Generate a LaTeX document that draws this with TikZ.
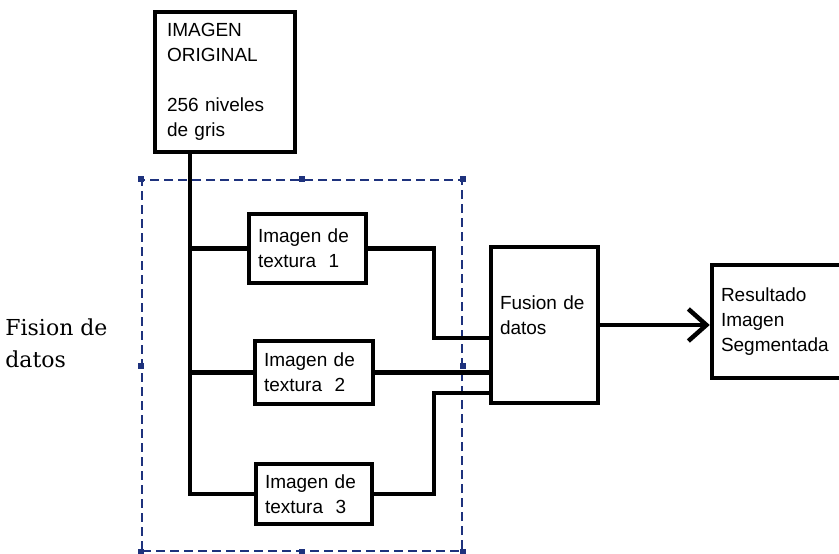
\documentclass[tikz,border=0pt]{standalone}
\usepackage{fontspec}
\setmainfont{Liberation Sans}
\newfontfamily\labelserif{DejaVu Serif}
\usetikzlibrary{arrows.meta}
\definecolor{navy}{RGB}{30,50,125}

\begin{document}
\begin{tikzpicture}[x=1pt,y=-1pt,thick,
	box/.style={rectangle,draw,line width=4.5pt,align=left,inner xsep=9pt,inner ysep=0pt,
		font=\fontsize{19}{25}\selectfont},
	conn/.style={line width=4.5pt},
	frame/.style={rectangle,draw=navy,line width=1.5pt,dash pattern=on 9pt off 5pt}]
	
	\useasboundingbox (0,0) rectangle (839,554);
	
	\node[frame, minimum width=320pt, minimum height=371pt] (grp) at (302,365.5) {};
	\foreach \p in {north west,north,north east,east,south east,south,south west,west}
	\fill[navy] ([shift={(-3pt,-3pt)}]grp.\p) rectangle +(6pt,6pt);
	
	\node[box, inner xsep=12pt, text width=116pt, minimum height=140pt] (orig) at (225,82)
	{IMAGEN\\ ORIGINAL\\[25pt] 256 niveles\\ de gris};
	\node[box, text width=99pt, minimum height=69pt] (tex1) at (307.5,248.5) {Imagen de\\ textura~~1};
	\node[box, text width=100pt, minimum height=63pt] (tex2) at (314,372.5) {Imagen de\\ textura~~2};
	\node[box, text width=98pt, minimum height=60pt] (tex3) at (314,494) {Imagen de\\ textura~~3};
	\node[box, text width=89pt, minimum height=156pt] (fus) at (544.5,325) {Fusion de\\ datos\\[-5pt]~};
	\node[box, text width=140pt, minimum height=113pt] (res) at (791,321.5) {Resultado\\ Imagen\\ Segmentada};
	
	\node[anchor=north west, inner sep=0pt, align=left, font=\labelserif\fontsize{22}{32}\selectfont]
	(lbl) at (5,318) {Fision de\\ datos};
	
	\coordinate (top) at ([xshift=37pt]orig.south west);
	\draw[conn] (top) |- (tex3.west);
	\draw[conn] (tex1.west) -- (tex1.west -| top);
	\draw[conn] (tex2.west) -- (tex2.west -| top);
	
	\draw[conn] (tex1.east) -| ([xshift=-55pt,yshift=-13pt]fus.west) -- ([yshift=-13pt]fus.west);
	\draw[conn] (tex2.east) -- (tex2.east -| fus.west);
	\draw[conn] (tex3.east) -| ([xshift=-55pt,yshift=-68pt]fus.west) -- ([yshift=-68pt]fus.west);
	
	\draw[conn,-{Straight Barb[length=18pt,width=32pt]}] (fus.east) -- (fus.east -| res.west);
\end{tikzpicture}
\end{document}
